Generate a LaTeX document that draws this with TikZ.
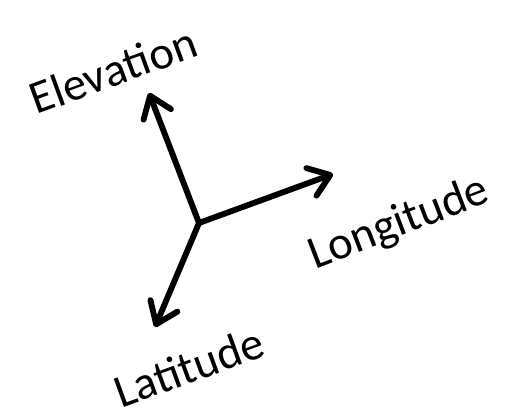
\documentclass[tikz,border=0pt]{standalone}
\usepackage{fontspec}
\setmainfont{Carlito}
\usetikzlibrary{arrows.meta}
\begin{document}
\begin{tikzpicture}[x=0.75pt,y=-0.75pt,
  axis/.style={line width=4.4pt,line cap=round,-{Straight Barb[length=15pt,width=22pt,line width=4.4pt,round]}},
  lbl/.style={font=\fontsize{35}{40}\selectfont,inner sep=0pt}]
\useasboundingbox (0,0) rectangle (510,413);

\coordinate (o) at (199,223);
\coordinate (up) at (149,93);
\coordinate (east) at (333,174);
\coordinate (down) at (155,327);

% axes
\draw[axis] (o) -- (up);
\draw[axis] (o) -- (east);
\draw[axis] (o) -- (down);

% labels
\node[lbl,rotate=20] (elev) at (113,70) {Elevation};
\node[lbl,rotate=21] (long) at (399,224) {Longitude};
\node[lbl,rotate=20] (lat) at (189,367) {Latitude};
\end{tikzpicture}
\end{document}
